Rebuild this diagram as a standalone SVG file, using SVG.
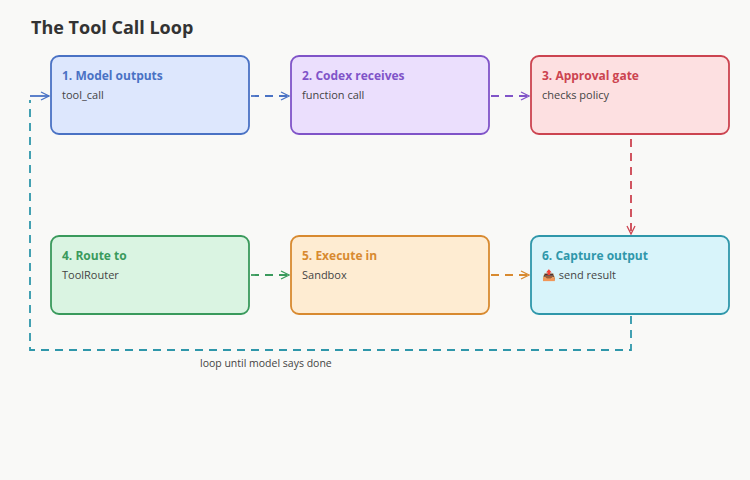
<svg xmlns="http://www.w3.org/2000/svg" width="750" height="480" viewBox="0 0 750 480">
<style>
text{font-family:"Open Sans","Liberation Sans",sans-serif}
.t{font-size:12px;font-weight:bold}
.s{font-size:11px;fill:#444}
.box{stroke-width:1.8}
.c{fill:none;stroke-width:1.8;stroke-dasharray:8 6}
</style>
<defs>
<marker id="mb" markerWidth="10" markerHeight="10" refX="9" refY="5" orient="auto" markerUnits="userSpaceOnUse"><path d="M1,1 L9,5 L1,9" fill="none" stroke="#4a72c4" stroke-width="1.3"/></marker>
<marker id="mp" markerWidth="10" markerHeight="10" refX="9" refY="5" orient="auto" markerUnits="userSpaceOnUse"><path d="M1,1 L9,5 L1,9" fill="none" stroke="#8054c8" stroke-width="1.3"/></marker>
<marker id="mr" markerWidth="10" markerHeight="10" refX="9" refY="5" orient="auto" markerUnits="userSpaceOnUse"><path d="M1,1 L9,5 L1,9" fill="none" stroke="#cc4450" stroke-width="1.3"/></marker>
<marker id="mg" markerWidth="10" markerHeight="10" refX="9" refY="5" orient="auto" markerUnits="userSpaceOnUse"><path d="M1,1 L9,5 L1,9" fill="none" stroke="#3a9a5c" stroke-width="1.3"/></marker>
<marker id="mo" markerWidth="10" markerHeight="10" refX="9" refY="5" orient="auto" markerUnits="userSpaceOnUse"><path d="M1,1 L9,5 L1,9" fill="none" stroke="#d88a30" stroke-width="1.3"/></marker>
</defs>
<rect width="750" height="480" fill="#f9f9f7"/>
<text x="31" y="34" style="font-size:18px;font-weight:bold" fill="#333">The Tool Call Loop</text>
<g id="connectors">
<path class="c" d="M251,96 H289" stroke="#4a72c4" marker-end="url(#mb)"/>
<path class="c" d="M491,96 H529" stroke="#8054c8" marker-end="url(#mp)"/>
<path class="c" d="M631,139 V234" stroke="#cc4450" marker-end="url(#mr)"/>
<path class="c" d="M251,275 H289" stroke="#3a9a5c" marker-end="url(#mg)"/>
<path class="c" d="M491,275 H529" stroke="#d88a30" marker-end="url(#mo)"/>
<path class="c" d="M631,316 V350 H30 V100" stroke="#2f97aa"/>
<path d="M30,96 H49" fill="none" stroke="#4a72c4" stroke-width="1.8" marker-end="url(#mb)"/>
<text x="200" y="367" class="s" style="font-size:10.5px">loop until model says done</text>
</g>
<g id="n1"><rect class="box" x="51" y="56" width="198" height="78" rx="8" fill="#dde7fd" stroke="#4a72c4"/><text x="62" y="80" class="t" fill="#4a72c4">1. Model outputs</text><text x="62" y="99" class="s">tool_call</text></g>
<g id="n2"><rect class="box" x="291" y="56" width="198" height="78" rx="8" fill="#ebdffd" stroke="#8054c8"/><text x="302" y="80" class="t" fill="#8054c8">2. Codex receives</text><text x="302" y="99" class="s">function call</text></g>
<g id="n3"><rect class="box" x="531" y="56" width="198" height="78" rx="8" fill="#fde0e1" stroke="#cc4450"/><text x="542" y="80" class="t" fill="#cc4450">3. Approval gate</text><text x="542" y="99" class="s">checks policy</text></g>
<g id="n4"><rect class="box" x="51" y="236" width="198" height="78" rx="8" fill="#daf4e2" stroke="#3a9a5c"/><text x="62" y="260" class="t" fill="#3a9a5c">4. Route to</text><text x="62" y="279" class="s">ToolRouter</text></g>
<g id="n5"><rect class="box" x="291" y="236" width="198" height="78" rx="8" fill="#feecd2" stroke="#d88a30"/><text x="302" y="260" class="t" fill="#d88a30">5. Execute in</text><text x="302" y="279" class="s">Sandbox</text></g>
<g id="n6"><rect class="box" x="531" y="236" width="198" height="78" rx="8" fill="#d8f4fa" stroke="#2f97aa"/><text x="542" y="260" class="t" fill="#2f97aa">6. Capture output</text><text x="542" y="279" class="s">📤 send result</text></g>
</svg>
